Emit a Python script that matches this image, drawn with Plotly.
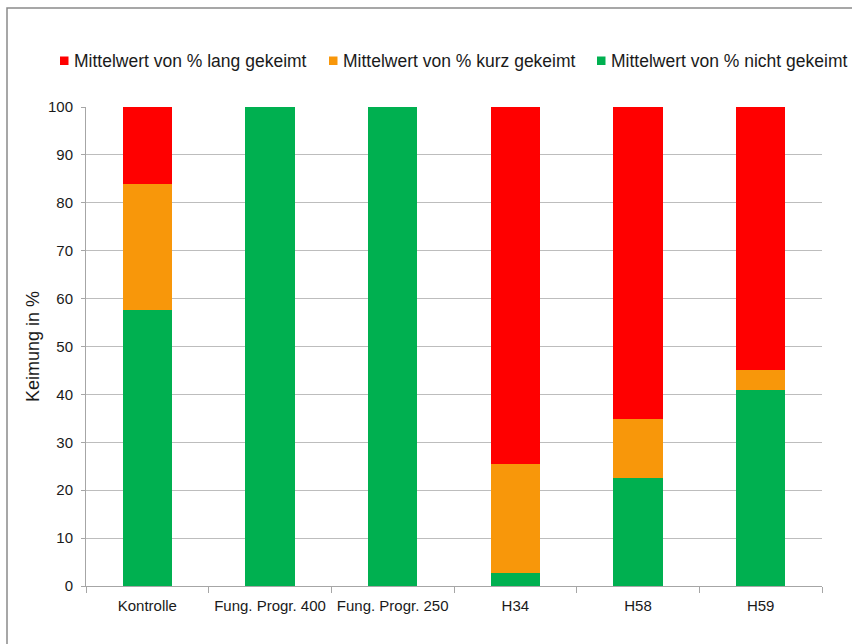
import plotly.graph_objects as go

categories = ["Kontrolle", "Fung. Progr. 400", "Fung. Progr. 250", "H34", "H58", "H59"]
nicht_gekeimt = [57.6, 100, 100, 2.7, 22.6, 40.9]
kurz_gekeimt = [26.3, 0, 0, 22.8, 12.3, 4.2]
lang_gekeimt = [16.1, 0, 0, 74.5, 65.1, 54.9]

series = [
    ("Mittelwert von % nicht gekeimt", nicht_gekeimt, "#00B050"),
    ("Mittelwert von % kurz gekeimt", kurz_gekeimt, "#F8970A"),
    ("Mittelwert von % lang gekeimt", lang_gekeimt, "#FF0000"),
]

# figure pixel geometry
W, H = 852, 644
L, R, T, B = 86, 30, 107, 58
PW, PH = W - L - R, H - T - B


def px(x):
    return (x - L) / PW


def py(y):
    return (H - B - y) / PH


fig = go.Figure()
for name, values, color in series:
    fig.add_trace(go.Bar(
        x=categories,
        y=values,
        name=name,
        marker={"color": color, "line": {"width": 0}},
        showlegend=False,
    ))

# legend drawn by hand so it sits in one tight row like the original
legend_items = [
    ("Mittelwert von % lang gekeimt", "#FF0000", 60),
    ("Mittelwert von % kurz gekeimt", "#F8970A", 329),
    ("Mittelwert von % nicht gekeimt", "#00B050", 597),
]
shapes = [{
    "type": "rect",
    "xref": "paper",
    "yref": "paper",
    "x0": px(7),
    "x1": px(W + 20),
    "y0": py(H + 20),
    "y1": py(8),
    "line": {"color": "#8a8a8a", "width": 1.5},
}]
annotations = []
for text, color, x0 in legend_items:
    shapes.append({
        "type": "rect",
        "xref": "paper",
        "yref": "paper",
        "x0": px(x0),
        "x1": px(x0 + 8.5),
        "y0": py(65),
        "y1": py(56.5),
        "fillcolor": color,
        "line": {"width": 0},
    })
    annotations.append({
        "text": text,
        "xref": "paper",
        "yref": "paper",
        "x": px(x0 + 12),
        "y": py(61),
        "xanchor": "left",
        "yanchor": "middle",
        "showarrow": False,
        "font": {"size": 17.5, "color": "#1a1a1a"},
    })

fig.update_layout(
    barmode="stack",
    bargap=0.6,
    width=W,
    height=H,
    margin={"l": L, "r": R, "t": T, "b": B, "autoexpand": False},
    paper_bgcolor="white",
    plot_bgcolor="white",
    font={"family": "Liberation Sans, Arial, sans-serif", "size": 15, "color": "#1a1a1a"},
    showlegend=False,
    shapes=shapes,
    annotations=annotations,
)

fig.update_yaxes(
    range=[0, 100],
    dtick=10,
    showgrid=True,
    gridcolor="#bdbdbd",
    gridwidth=1,
    showline=True,
    linecolor="#a6a6a6",
    ticks="outside",
    ticklen=4,
    tickcolor="#a6a6a6",
    ticklabelstandoff=5,
    title={"text": "Keimung in %", "font": {"size": 18}, "standoff": 3},
    zeroline=False,
)
fig.update_xaxes(
    showline=True,
    linecolor="#a6a6a6",
    ticks="outside",
    tickson="boundaries",
    ticklen=6,
    tickcolor="#a6a6a6",
    ticklabelstandoff=6,
    showgrid=False,
)

# drop the default body margin so the chart fills the window exactly
fig.write_html(
    "out.html",
    config={"displayModeBar": False},
    post_script="document.body.style.margin = '0';",
)
